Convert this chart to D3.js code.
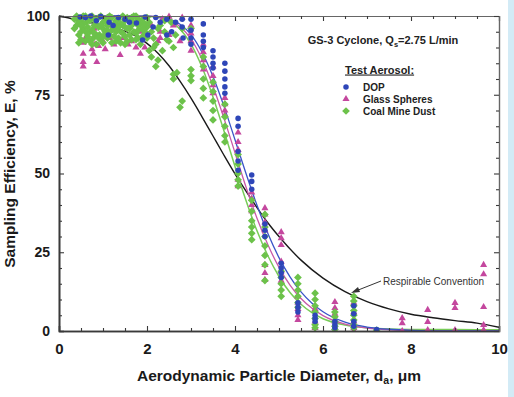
<!DOCTYPE html>
<html><head><meta charset="utf-8">
<script src="https://cdn.jsdelivr.net/npm/d3@7"></script>
<style>
body{margin:0;background:#fff}
svg{display:block}
text{font-family:"Liberation Sans",Arial,Helvetica,sans-serif}
</style>
</head><body>
<svg id="c" width="514" height="397"></svg>
<script>
// ---- data ----
const xTicks=[0,2,4,6,8,10];
const yTicks=[0,25,50,75,100];
const seriesNames=["DOP","Glass Spheres","Coal Mine Dust"];

// DOP (blue circles) [d_a, E]
const dopPoints=[[0.48,99.7],[0.6,99.5],[0.72,100],[0.85,98.5],[0.95,99.8],[1.12,94],[1.14,98],[1.23,97],[1.35,99.5],[1.5,99],[1.6,98],[1.76,97.8],[1.9,92.4],[1.96,99.7],[2.02,94],[2.14,96.5],[2.2,99.5],[2.3,98],[2.45,99],[2.45,94],[2.56,95],[2.65,98],[2.8,96.5],[2.8,99],[2.82,93],
[3.0,99],[3.0,95.5],[3.0,93],[3.0,91],
[3.28,97.5],[3.28,94],[3.28,92],[3.28,90],
[3.5,89],[3.5,87],[3.5,85],[3.5,83.5],
[3.77,85],[3.77,82.5],[3.77,80],[3.77,77.5],[3.77,75.5],
[4.07,67.5],[4.07,65],[4.07,57],[4.07,54],[4.07,51],
[4.38,49.5],[4.38,47.5],[4.38,45],
[4.68,34],[4.68,32],[4.68,30],
[5.05,21.5],[5.05,20],[5.05,18.5],[5.05,17],
[5.43,9],[5.43,7.5],[5.43,6],
[5.82,5],[5.82,4],[5.82,3],
[6.27,3],[6.27,2],[6.27,1],
[6.7,8],[6.7,5.5],[6.7,3],[6.7,1.5],
[7.22,0.5]];

// Glass spheres (magenta triangles)
const glassPoints=[[0.55,91.5],[0.55,88],[0.55,85.4],[0.55,84],[0.6,93],[0.75,89.5],[0.78,88],[0.82,91],[0.86,85.4],[0.9,90.5],[1.0,92],[1.05,89.5],[1.15,93],[1.25,91],[1.39,87.6],[1.46,93],[1.57,91],[1.65,92],[1.75,90],[1.84,95],[1.85,88],[1.95,90],[2.0,94],[2.1,97],[2.25,92],[2.3,95],[2.3,93],[2.35,99],[2.5,99.8],[2.5,94],[2.6,97],[2.75,92],[2.8,99.5],[0.8,96],[1.3,97.5],[1.05,99],
[3.0,97],[3.0,94.5],[3.0,92],[3.0,89],
[3.28,91],[3.28,88.5],[3.28,86],[3.28,83],
[3.5,84],[3.5,81],[3.5,78],[3.5,75.5],
[3.77,74],[3.77,72],[3.77,70],[3.77,68.5],
[4.07,63],[4.07,60],[4.07,57.5],[4.07,48],[4.07,46],
[4.38,44],[4.38,42],[4.38,40],[4.38,38],
[4.68,39],[4.68,37],[4.68,34.5],[4.68,32],[4.68,21],[4.68,18.4],[4.68,16.2],
[5.05,31.4],[5.05,29.5],[5.05,27.3],[5.05,22],[5.05,19],[5.05,16],
[5.43,11],[5.43,9],[5.43,7],[5.43,5],[5.43,3.5],
[5.82,7],[5.82,3],[5.82,1],
[6.27,9.2],[6.27,7.3],[6.27,5.5],[6.27,3],[6.27,1],[6.27,0],
[6.7,9],[6.7,6],[6.7,3],[6.7,1],[6.7,0],
[7.22,0],
[7.8,4.1],[7.8,2.5],[7.8,0],
[8.38,6.7],[8.38,2.9],[8.38,0.3],
[9.0,8.9],[9.0,7.3],[9.0,0.3],
[9.65,21],[9.65,18],[9.65,7.6],[9.65,1.9],[9.65,0.3]];

// Coal mine dust (green)
const coalPoints=[[0.4,97],[0.45,94],[0.5,99],[0.55,96],[0.6,92],[0.62,98],[0.7,95],[0.75,100],[0.78,93],[0.85,97],[0.9,99.5],[0.92,94],[1.0,96],[1.0,91.5],[1.05,98.5],[1.1,93],[1.15,100],[1.2,95.5],[1.25,97.5],[1.3,92],[1.35,99],[1.4,95],[1.45,97],[1.5,93.5],[1.55,99.5],[1.6,96],[1.65,92.5],[1.7,98],[1.75,94.5],[1.8,97],[1.85,91],[1.9,99],[1.95,95],[2.0,96.5],[2.05,89],[2.1,87],[2.15,93],[2.2,84],[2.25,86],[2.3,97],[2.4,95],[2.5,92],[2.55,98],[2.6,81.5],[2.6,80],[2.65,94],[2.68,82],[2.75,71],[2.8,73],[2.8,96],[0.55,100],[0.65,93.5],[0.85,91],[1.2,99.5],[1.5,98.5],[1.75,100],
[0.35,99],[0.35,96],[0.4,100],[0.45,98],[0.5,95],[0.5,92.5],[0.55,97.5],[0.6,100],[0.65,96.5],[0.7,98.5],[0.7,92],[0.75,95.5],[0.8,99],[0.8,97],[0.85,94],[0.9,96.5],[0.95,100],[0.95,92.5],[1.0,98],[1.05,95],[1.1,97],[1.1,99.5],[1.15,94],[1.2,91.5],[1.25,96],[1.3,98.5],[1.3,95],[1.35,93],[1.4,97.5],[1.45,100],[1.45,94.5],[1.5,96.5],[1.55,92],[1.6,98.5],[1.6,94],[1.65,97],[1.7,95],[1.7,100],[1.75,92.5],[1.8,99],[1.8,95.5],[1.85,97.5],[1.9,93.5],[1.95,97.5],[2.0,93],[2.0,99.5],[0.6,95],[0.9,93],[1.2,97],[1.4,91.5],[0.45,91.5],[0.75,91],[1.0,93.5],[1.55,96],[2.1,95],[2.2,91],[2.35,89],[2.45,92.5],[2.6,90],
[0.5,97],[0.65,99],[0.8,94.5],[0.95,97],[1.1,95.5],[1.25,93.5],[1.35,96.5],[1.5,91],[1.65,99.5],[1.8,93],[1.9,96],[2.05,98],[2.15,90],[2.25,96],[2.4,98.5],
[3.0,96],[3.0,83],[3.0,81],[3.0,79.5],
[3.28,87],[3.28,84],[3.28,80],[3.28,77],[3.28,74],
[3.5,79],[3.5,76],[3.5,73],[3.5,70],[3.5,67],
[3.77,72],[3.77,68],[3.77,65],[3.77,62],[3.77,60],
[4.07,56],[4.07,53],[4.07,50],[4.07,48],[4.07,46],
[4.38,41.5],[4.38,38],[4.38,35],[4.38,33],[4.38,31],[4.38,29],
[4.68,37],[4.68,33],[4.68,30],[4.68,27],[4.68,24],[4.68,21],[4.68,16],
[5.05,19],[5.05,17],[5.05,15],[5.05,13],[5.05,11],
[5.43,17],[5.43,15],[5.43,13],[5.43,11],[5.43,9],[5.43,7.5],
[5.82,12],[5.82,10],[5.82,8],[5.82,6],[5.82,4],[5.82,2],[5.82,1],
[6.27,6],[6.27,4.5],[6.27,3],[6.27,1.5],[6.27,0.5],
[6.7,11],[6.7,9.5],[6.7,8],[6.7,6.5],[6.7,5],[6.7,3.5],[6.7,2],[6.7,1],
[7.22,0.3]];

// fitted efficiency curves
const dopFit=[[0.5,100],[1,100],[1.5,100],[2,99.96],[2.25,99.8],[2.5,99.1],[2.75,97.4],[3,94.1],[3.25,88.5],[3.5,80.8],[3.75,71.3],[4,60.7],[4.25,50],[4.5,39.9],[4.75,30.9],[5,23.3],[5.25,17.2],[5.5,12.4],[5.75,8.8],[6,6.1],[6.5,2.8],[7,1.26],[7.5,0.55],[8,0.23],[9,0.03],[10,0]];
const glassFit=[[0.5,100],[1,100],[1.5,100],[2,99.95],[2.25,99.7],[2.5,98.8],[2.75,96.7],[3,92.7],[3.25,86.3],[3.5,77.7],[3.75,67.5],[4,56.6],[4.25,45.7],[4.5,35.8],[4.75,27.3],[5,20.2],[5.25,14.6],[5.5,10.3],[5.75,7.2],[6,4.9],[6.5,2.2],[7,0.95],[7.5,0.4],[8,0.16],[9,0.02],[10,0]];
const coalFit=[[0.5,100],[1,100],[1.5,99.99],[2,99.9],[2.25,99.5],[2.5,98.5],[2.75,95.9],[3,91.1],[3.25,83.8],[3.5,74.3],[3.75,63.5],[4,52.2],[4.25,41.4],[4.5,31.8],[4.75,23.8],[5,17.3],[5.25,12.2],[5.5,8.5],[5.75,5.8],[6,3.9],[6.5,1.9],[7,1.0],[7.5,0.6],[8,0.5],[9,0.45],[10,0.4]];
const respirableConvention=[[0,100],[0.25,99.3],[0.5,98.5],[0.75,97.8],[1,97.1],[1.25,96.3],[1.5,95.2],[1.75,93.6],[2,91.3],[2.25,88.2],[2.5,84.2],[2.75,79.3],[3,73.9],[3.25,68],[3.5,61.9],[3.75,55.8],[4,49.9],[4.25,44.4],[4.5,39.2],[4.75,34.3],[5,30],[5.5,22.5],[6,16.8],[6.5,12.5],[7,9.3],[7.5,7],[8,5.3],[8.5,4.2],[9,3.3],[9.5,2.5],[10,1.2]];

// ---- drawing ----
const colors={dop:"#2e46b8",glass:"#c4479e",coal:"#6cc24a"};
const lineColors={dop:"#3a54c8",glass:"#c858a8",coal:"#78cc58",resp:"#1a1a1a"};
const svg=d3.select("#c");
svg.append("rect").attr("width",514).attr("height",397).attr("fill","#fff");
svg.append("rect").attr("x",508).attr("y",0).attr("width",6).attr("height",397).attr("fill","#d3ebf6");

const x=d3.scaleLinear().domain([0,10]).range([59,499]);
const y=d3.scaleLinear().domain([0,100]).range([331,16]);

svg.append("clipPath").attr("id","clip").append("rect")
  .attr("x",59).attr("y",12).attr("width",440).attr("height",320);

const plot=svg.append("g").attr("clip-path","url(#clip)");
const line=d3.line().x(d=>x(d[0])).y(d=>y(d[1])).curve(d3.curveMonotoneX);

[[respirableConvention,lineColors.resp,1.4],[coalFit,lineColors.coal,1.5],[glassFit,lineColors.glass,1.3],[dopFit,lineColors.dop,1.3]].forEach(([data,c,w])=>{
  plot.append("path").datum(data).attr("d",line).attr("fill","none").attr("stroke",c).attr("stroke-width",w);
});

const symCircle=d3.symbol().type(d3.symbolCircle).size(24);
const symTri=d3.symbol().type(d3.symbolTriangle).size(22);
const symDiam=d3.symbol().type(d3.symbolSquare).size(30);

function drawPts(data,sym,color,rot){
  plot.append("g").selectAll("path").data(data).join("path")
    .attr("transform",d=>`translate(${x(d[0])},${y(d[1])})`+(rot?" rotate(45)":""))
    .attr("d",sym).attr("fill",color);
}
drawPts(glassPoints,symTri,colors.glass,false);
drawPts(coalPoints,symDiam,colors.coal,true);
drawPts(dopPoints,symCircle,colors.dop,false);

// axes
const axisColor="#3a3a3a";
function styleAxis(g,labels){
  g.select(".domain").attr("stroke",axisColor).attr("stroke-width",1.6);
  g.selectAll(".tick line").attr("stroke",axisColor).attr("stroke-width",1.1);
  g.selectAll(".tick text").attr("fill","#1a1a1a").attr("font-size",15).attr("font-weight","bold");
  if(!labels) g.selectAll(".tick text").remove();
}
const xMinor=d3.range(0,10.01,0.5).filter(v=>v%2!==0);
const yMinor=d3.range(0,100.1,5).filter(v=>v%25!==0);

// bottom
let g=svg.append("g").attr("transform","translate(0,331)").call(d3.axisBottom(x).tickValues(xTicks).tickSize(-5).tickPadding(12).tickFormat(d3.format("d")));
styleAxis(g,true);
g=svg.append("g").attr("transform","translate(0,331)").call(d3.axisBottom(x).tickValues(xMinor).tickSize(-3).tickSizeOuter(0));
styleAxis(g,false);
// top
g=svg.append("g").attr("transform","translate(0,16)").call(d3.axisTop(x).tickValues(xTicks).tickSize(-5));
styleAxis(g,false); g.select(".domain").attr("stroke-width",1.2).attr("stroke","#666");
g=svg.append("g").attr("transform","translate(0,16)").call(d3.axisTop(x).tickValues(xMinor).tickSize(-3).tickSizeOuter(0));
styleAxis(g,false); g.select(".domain").attr("stroke-width",1.2).attr("stroke","#666");
// left
g=svg.append("g").attr("transform","translate(59,0)").call(d3.axisLeft(y).tickValues(yTicks).tickSize(-5).tickPadding(9));
styleAxis(g,true); g.selectAll(".tick text").attr("font-size",14);
g=svg.append("g").attr("transform","translate(59,0)").call(d3.axisLeft(y).tickValues(yMinor).tickSize(-3).tickSizeOuter(0));
styleAxis(g,false);
// right
g=svg.append("g").attr("transform","translate(499,0)").call(d3.axisRight(y).tickValues(yTicks).tickSize(-5));
styleAxis(g,false); g.select(".domain").attr("stroke-width",1.2).attr("stroke","#666");
g=svg.append("g").attr("transform","translate(499,0)").call(d3.axisRight(y).tickValues(yMinor).tickSize(-3).tickSizeOuter(0));
styleAxis(g,false); g.select(".domain").attr("stroke-width",1.2).attr("stroke","#666");

// axis titles
const xt=svg.append("text").attr("x",279).attr("y",381).attr("text-anchor","middle")
  .attr("font-size",15.5).attr("font-weight","bold").attr("fill","#1a1a1a");
xt.append("tspan").text("Aerodynamic Particle Diameter, d");
xt.append("tspan").attr("font-size",10.5).attr("dy",3).text("a");
xt.append("tspan").attr("dy",-3).text(", \u03bcm");

svg.append("text").attr("transform","translate(15,174) rotate(-90)").attr("text-anchor","middle")
  .attr("font-size",15.5).attr("font-weight","bold").attr("fill","#1a1a1a")
  .text("Sampling Efficiency, E, %");

// annotation title
const tt=svg.append("text").attr("x",383).attr("y",44).attr("text-anchor","middle")
  .attr("font-size",11).attr("font-weight","bold").attr("fill","#222");
tt.append("tspan").text("GS-3 Cyclone, Q");
tt.append("tspan").attr("font-size",7.5).attr("dy",2.5).text("s");
tt.append("tspan").attr("dy",-2.5).text("=2.75 L/min");

svg.append("text").attr("x",345).attr("y",73.5).attr("font-size",11).attr("font-weight","bold")
  .attr("fill","#222").attr("text-decoration","underline").text("Test Aerosol:");

const legSyms=[[symCircle,colors.dop,false],[symTri,colors.glass,false],[symDiam,colors.coal,true]];
seriesNames.forEach((n,i)=>{
  const ly=87+i*12;
  svg.append("path").attr("transform",`translate(346,${ly})`+(legSyms[i][2]?" rotate(45)":"")).attr("d",legSyms[i][0]).attr("fill",legSyms[i][1]);
  svg.append("text").attr("x",363).attr("y",ly+3.5).attr("font-size",10).attr("font-weight","bold")
    .attr("fill","#222").text(n);
});

// respirable convention label + arrow
svg.append("text").attr("x",383).attr("y",285).attr("font-size",10).attr("fill","#333").text("Respirable Convention");
svg.append("line").attr("x1",381).attr("y1",281).attr("x2",357).attr("y2",290.5).attr("stroke","#333").attr("stroke-width",1);
svg.append("path").attr("d","M351,293 L358,287 L360,292 Z").attr("fill","#333");
</script>
</body></html>
